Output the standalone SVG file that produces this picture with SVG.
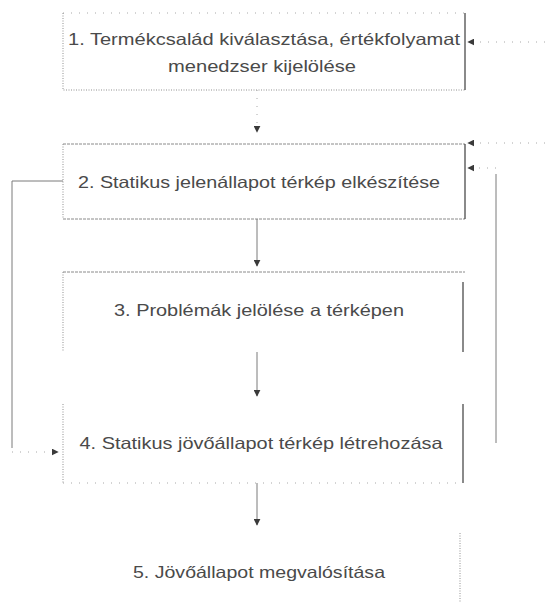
<svg xmlns="http://www.w3.org/2000/svg" width="545" height="602" viewBox="0 0 545 602">
  <style>
    .bg { fill: #ffffff; }
    .label { font-family: "Liberation Sans", Arial, sans-serif; font-size: 16.5px; fill: #4a4a4a; text-anchor: middle; }
    .solid { stroke: #3c3c3c; stroke-width: 1.2; fill: none; }
    .grey { stroke: #8a8a8a; stroke-width: 1; fill: none; stroke-dasharray: 3 1; }
    .dot { stroke: #8f8f8f; stroke-width: 1; fill: none; stroke-dasharray: 1 1.5; }
    .faint { stroke: #a8a8a8; stroke-width: 1; fill: none; stroke-dasharray: 1 7; }
    .link { stroke: #7a7a7a; stroke-width: 1; fill: none; }
  </style>
  <defs>
    <marker id="arrow" viewBox="0 0 10 10" refX="9" refY="5" markerWidth="7" markerHeight="7" orient="auto" markerUnits="userSpaceOnUse">
      <path d="M0,0 L10,5 L0,10 Z" fill="#3a3a3a"/>
    </marker>
  </defs>
  <rect class="bg" x="0" y="0" width="545" height="602"/>

  <!-- process steps -->
  <g id="step1">
    <path class="faint" d="M63,13 H465"/>
    <path class="dot" d="M63,13 V90 H465"/>
    <path class="solid" d="M465,13 V90"/>
    <text class="label" x="264" y="45" textLength="392" lengthAdjust="spacingAndGlyphs">1. Termékcsalád kiválasztása, értékfolyamat</text>
    <text class="label" x="262" y="72" textLength="188" lengthAdjust="spacingAndGlyphs">menedzser kijelölése</text>
  </g>

  <g id="step2">
    <path class="grey" d="M63,144 H465"/>
    <path class="dot" d="M63,144 V219"/>
    <path class="grey" d="M63,219 H465"/>
    <path class="solid" d="M465,144 V219"/>
    <text class="label" x="259" y="188" textLength="362" lengthAdjust="spacingAndGlyphs">2. Statikus jelenállapot térkép elkészítése</text>
  </g>

  <g id="step3">
    <path class="grey" d="M63,272 H465"/>
    <path class="dot" d="M63,272 V352"/>
    <path class="solid" d="M463,282 V352"/>
    <text class="label" x="259" y="316" textLength="290" lengthAdjust="spacingAndGlyphs">3. Problémák jelölése a térképen</text>
  </g>

  <g id="step4">
    <path class="dot" d="M63,404 V483"/>
    <path class="faint" d="M63,483 H463"/>
    <path class="solid" d="M463,404 V483"/>
    <text class="label" x="261" y="449" textLength="363" lengthAdjust="spacingAndGlyphs">4. Statikus jövőállapot térkép létrehozása</text>
  </g>

  <g id="step5">
    <path class="dot" d="M460,533 V605"/>
    <text class="label" x="259" y="578" textLength="252" lengthAdjust="spacingAndGlyphs">5. Jövőállapot megvalósítása</text>
  </g>

  <!-- flow connectors -->
  <g id="connectors">
    <path class="faint" d="M257,90 V132" marker-end="url(#arrow)"/>
    <path class="link" d="M257,219 V266" marker-end="url(#arrow)"/>
    <path class="link" d="M257,352 V396" marker-end="url(#arrow)"/>
    <path class="link" d="M257,483 V525" marker-end="url(#arrow)"/>
    <!-- feedback loops -->
    <path class="faint" d="M545,42 H468" marker-end="url(#arrow)"/>
    <path class="faint" d="M545,143 H468" marker-end="url(#arrow)"/>
    <path class="link" d="M496,443 V174"/>
    <path class="faint" d="M496,168 H468" marker-end="url(#arrow)"/>
    <path class="link" d="M63,181 H12 V448"/>
    <path class="faint" d="M12,452 H58" marker-end="url(#arrow)"/>
  </g>
</svg>
